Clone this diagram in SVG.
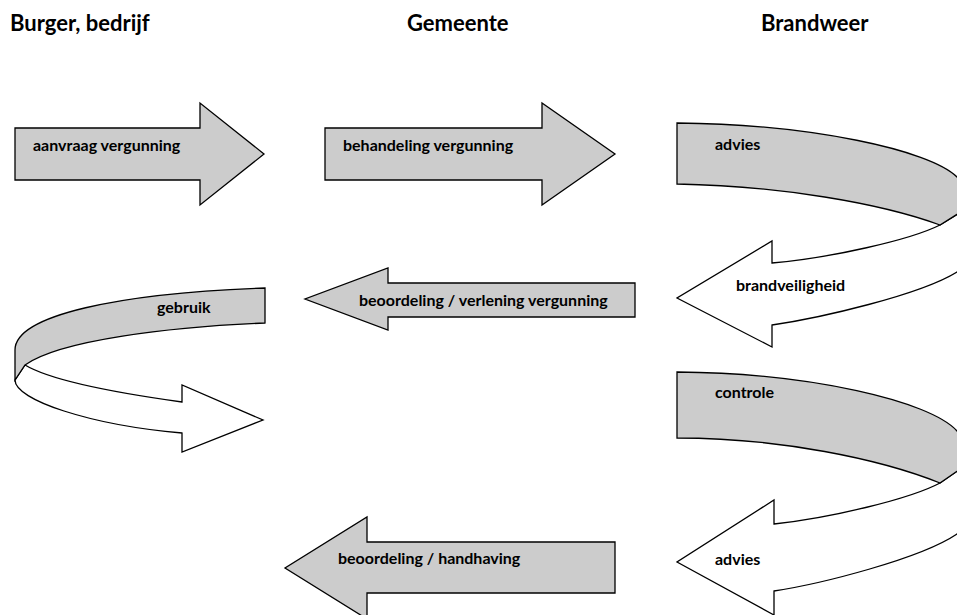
<svg xmlns="http://www.w3.org/2000/svg" width="957" height="615" viewBox="0 0 957 615">
<style>
  .hdr { font-family: Lato, "Liberation Sans", sans-serif; font-weight: bold; font-size: 22px; fill: #000; }
  .lbl { font-family: Lato, "Liberation Sans", sans-serif; font-weight: bold; font-size: 16px; fill: #000; }
  .g { fill: #cccccc; stroke: #000; stroke-width: 1.3; stroke-linejoin: miter; }
  .w { fill: #ffffff; stroke: #000; stroke-width: 1.3; stroke-linejoin: miter; }
</style>
<rect x="0" y="0" width="957" height="615" fill="#ffffff"/>
<g id="headers">
  <text class="hdr" x="10" y="31">Burger, bedrijf</text>
  <text class="hdr" x="407" y="31">Gemeente</text>
  <text class="hdr" x="761" y="31">Brandweer</text>
</g>
<g id="connectors">
  <g id="aanvraag">
    <path class="g" d="M15,128 L200,128 L200,103 L264,154 L200,205 L200,180 L15,180 Z"/>
    <text class="lbl" x="33" y="151">aanvraag vergunning</text>
  </g>
  <g id="behandeling">
    <path class="g" d="M325,128 L542,128 L542,103 L615,154 L542,205 L542,180 L325,180 Z"/>
    <text class="lbl" x="343" y="151">behandeling vergunning</text>
  </g>
  <g id="advies-brandveiligheid">
    <path class="w" d="M972,205 C973,230 970,255 957,272 C920,295 820,318 772,325 L772,347 L677,298 L772,241 L772,263 C830,258 910,240 940,225 Z"/>
    <path class="g" d="M677,123 C810,124 930,150 957,177 C966,186 971,195 972,205 L940,225 C880,203 780,186 677,184 Z"/>
    <text class="lbl" x="715" y="150">advies</text>
    <text class="lbl" x="736" y="291">brandveiligheid</text>
  </g>
  <g id="beoordeling-verlening">
    <path class="g" d="M635,283 L388,283 L388,268 L305,299 L388,330 L388,317 L635,317 Z"/>
    <text class="lbl" x="359" y="306">beoordeling / verlening vergunning</text>
  </g>
  <g id="gebruik">
    <path class="w" d="M15,380 C15,400 90,425 182,433 L182,452 L263,420 L182,385 L182,402 C110,392 50,380 25,365 Z"/>
    <path class="g" d="M265,288 L265,323 C170,327 60,340 25,365 L15,380 L15,350 C15,315 120,293 265,288 Z"/>
    <text class="lbl" x="157" y="313">gebruik</text>
  </g>
  <g id="controle-advies">
    <path class="w" d="M972,461 C973,488 970,515 957,534 C920,559 820,584 774,591 L774,615 L677,562 L774,500 L774,524 C830,518 910,499 940,483 Z"/>
    <path class="g" d="M677,372 C810,373 930,401 957,431 C966,440 971,450 972,461 L940,483 C880,459 780,438 677,438 Z"/>
    <text class="lbl" x="715" y="398">controle</text>
    <text class="lbl" x="715" y="565">advies</text>
  </g>
  <g id="beoordeling-handhaving">
    <path class="g" d="M615,542 L367,542 L367,517 L285,568 L367,619 L367,593 L615,593 Z"/>
    <text class="lbl" x="338" y="564">beoordeling / handhaving</text>
  </g>
</g>
</svg>
